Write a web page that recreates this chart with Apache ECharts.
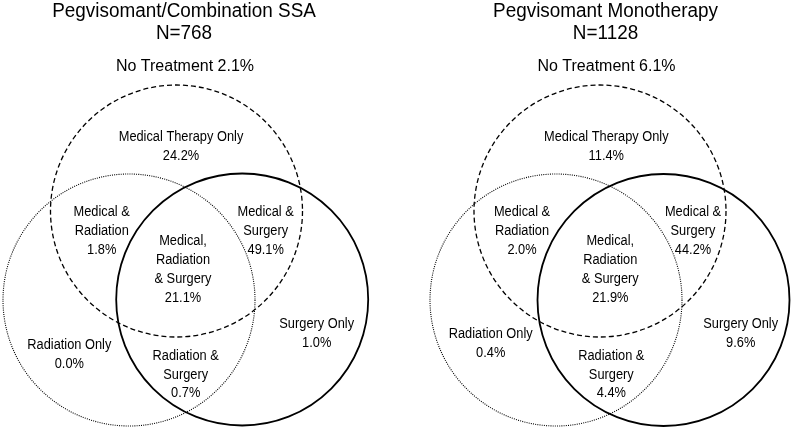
<!DOCTYPE html>
<html>
<head>
<meta charset="utf-8">
<script src="https://cdn.jsdelivr.net/npm/echarts@6/dist/echarts.min.js"></script>
<style>
html,body{margin:0;padding:0;background:#fff;}
#chart{width:793px;height:430px;}
</style>
</head>
<body>
<div id="chart"></div>
<script>
// ---- Data ----
const panelTitles = ['Pegvisomant/Combination SSA', 'Pegvisomant Monotherapy'];
const panelN = [768, 1128];
const regionNames = [
  'No Treatment',
  'Medical Therapy Only',
  'Medical &\nRadiation',
  'Medical &\nSurgery',
  'Medical,\nRadiation\n& Surgery',
  'Radiation Only',
  'Radiation &\nSurgery',
  'Surgery Only'
];
const combinationSSA = [2.1, 24.2, 1.8, 49.1, 21.1, 0.0, 0.7, 1.0];
const monotherapy    = [6.1, 11.4, 2.0, 44.2, 21.9, 0.4, 4.4, 9.6];
const panelValues = [combinationSSA, monotherapy];

// ---- Layout (drawing geometry, in axis units = pixels) ----
const circleStyles = [
  { lineWidth: 1.3, lineDash: [5, 3] },   // Medical therapy (dashed)
  { lineWidth: 1.1, lineDash: [1, 1.2] }, // Radiation (dotted)
  { lineWidth: 1.8, lineDash: null }      // Surgery (solid)
];
const panelCircles = [
  [[176.5, 211, 126], [129, 300, 126], [242.2, 299.5, 126]],
  [[600, 211, 126], [556, 300, 126], [663.5, 300, 126]]
];
const panelTitlePos = [[184, 22.7], [605.5, 22.7]];
const panelLabelPos = [
  [[185, 67], [181, 146.5], [101.7, 231], [265.7, 231], [183, 269.8], [69.3, 354.3], [185.7, 374.7], [316.7, 333.5]],
  [[606.5, 67], [606.3, 146.5], [522, 231], [693, 231], [610.3, 269.8], [490.7, 343.7], [611.3, 374.7], [740.7, 333.5]]
];

const FONT = "'Liberation Sans', Arial, Helvetica, sans-serif";

// build series data
const circleData = [];
panelCircles.forEach(function (circles) {
  circles.forEach(function (c, k) { circleData.push([c[0], c[1], c[2], k]); });
});

const labelData = [];
panelValues.forEach(function (vals, p) {
  vals.forEach(function (v, i) {
    const txt = i === 0
      ? regionNames[i] + ' ' + v.toFixed(1) + '%'
      : regionNames[i] + '\n' + v.toFixed(1) + '%';
    labelData.push({ value: [panelLabelPos[p][i][0], panelLabelPos[p][i][1], i], name: txt });
  });
});

const titleData = panelTitles.map(function (t, p) {
  return { value: [panelTitlePos[p][0], panelTitlePos[p][1]], name: t + '\nN=' + panelN[p] };
});

const chart = echarts.init(document.getElementById('chart'), null, { renderer: 'canvas' });
chart.setOption({
  backgroundColor: '#fff',
  animation: false,
  grid: { left: 0, right: 0, top: 0, bottom: 0 },
  xAxis: { type: 'value', min: 0, max: 793, show: false },
  yAxis: { type: 'value', min: 0, max: 430, inverse: true, show: false },
  series: [
    {
      type: 'custom',
      data: circleData,
      renderItem: function (params, api) {
        const c = api.coord([api.value(0), api.value(1)]);
        const r = api.size([api.value(2), 0])[0];
        const st = circleStyles[api.value(3)];
        return {
          type: 'circle',
          shape: { cx: c[0], cy: c[1], r: r },
          style: { fill: null, stroke: '#000', lineWidth: st.lineWidth, lineDash: st.lineDash }
        };
      }
    },
    {
      type: 'custom',
      data: labelData,
      renderItem: function (params, api) {
        const c = api.coord([api.value(0), api.value(1)]);
        const isTop = api.value(2) === 0;
        return {
          type: 'text',
          x: c[0], y: c[1],
          scaleX: isTop ? 1 : 0.915,
          style: {
            text: labelData[params.dataIndex].name,
            align: 'center', verticalAlign: 'middle',
            fontFamily: FONT, fontSize: isTop ? 16 : 14, lineHeight: 18.8, fill: '#000'
          }
        };
      }
    },
    {
      type: 'custom',
      data: titleData,
      renderItem: function (params, api) {
        const c = api.coord([api.value(0), api.value(1)]);
        return {
          type: 'text',
          x: c[0], y: c[1],
          scaleX: 0.945,
          style: {
            text: titleData[params.dataIndex].name,
            align: 'center', verticalAlign: 'middle',
            fontFamily: FONT, fontSize: 20, lineHeight: 21.5, fill: '#000'
          }
        };
      }
    }
  ]
});
</script>
</body>
</html>
